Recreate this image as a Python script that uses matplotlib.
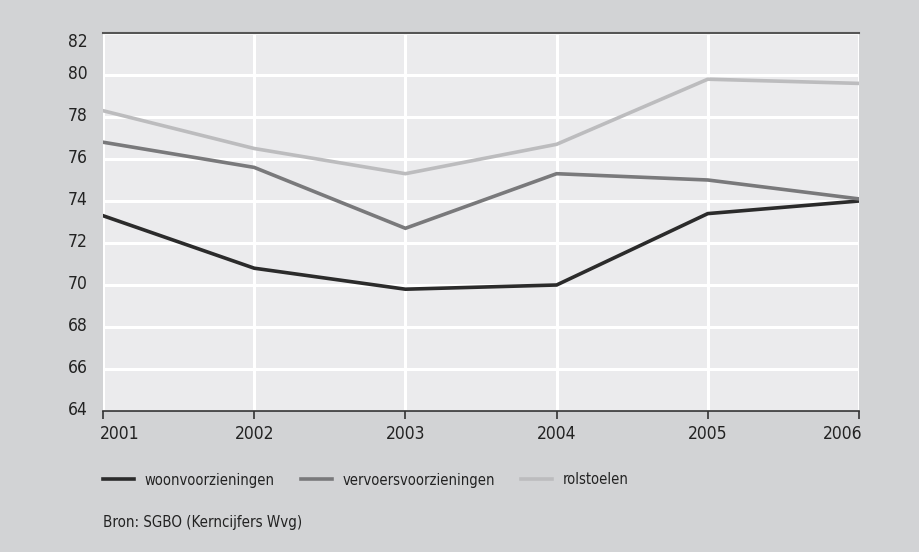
import matplotlib
matplotlib.use("Agg")
import matplotlib.pyplot as plt
import matplotlib.transforms as mtransforms
from matplotlib import font_manager
from matplotlib.font_manager import FontProperties

years = [2001, 2002, 2003, 2004, 2005, 2006]
woonvoorzieningen = [73.3, 70.8, 69.8, 70.0, 73.4, 74.0]
vervoersvoorzieningen = [76.8, 75.6, 72.7, 75.3, 75.0, 74.1]
rolstoelen = [78.3, 76.5, 75.3, 76.7, 79.8, 79.6]
y_ticks = [64, 66, 68, 70, 72, 74, 76, 78, 80, 82]

# pick a narrow sans face if one is available
narrow = None
for pref in ["LiberationSansNarrow-Regular", "DejaVuSansCondensed.ttf"]:
    for f in font_manager.fontManager.ttflist:
        if pref in f.fname:
            narrow = f.fname
            break
    if narrow:
        break


def fp(size):
    if narrow:
        return FontProperties(fname=narrow, size=size)
    return FontProperties(family="DejaVu Sans", stretch="condensed", size=size)


outer = "#d2d3d5"
inner = "#ebebed"
txt = "#222222"

fig = plt.figure(figsize=(9.19, 5.52), dpi=100, facecolor=outer)
ax = fig.add_axes([103 / 919, 141 / 552, 756 / 919, 378 / 552])
ax.set_facecolor(inner)

series = [
    ("woonvoorzieningen", woonvoorzieningen, "#2b2b2b"),
    ("vervoersvoorzieningen", vervoersvoorzieningen, "#79797b"),
    ("rolstoelen", rolstoelen, "#bcbcbe"),
]
handles = []
for label, vals, col in series:
    h, = ax.plot(years, vals, color=col, lw=2.6, label=label, zorder=3,
                 solid_joinstyle="miter")
    handles.append(h)

ax.set_xlim(2001, 2006)
ax.set_ylim(64, 82)
ax.set_yticks(y_ticks)
ax.set_xticks(years)
ax.grid(True, color="white", lw=2.2, zorder=1)
ax.set_axisbelow(True)

for s in ["left", "right"]:
    ax.spines[s].set_visible(False)
ax.spines["top"].set_color("#555555")
ax.spines["top"].set_linewidth(1.5)
ax.spines["bottom"].set_color("#333333")
ax.spines["bottom"].set_linewidth(1.2)

ax.tick_params(axis="y", length=0, pad=11, labelcolor=txt)
ax.tick_params(axis="x", length=6, width=1.2, color="#333333", direction="out",
               pad=4, labelcolor=txt)
for lab in ax.get_yticklabels() + ax.get_xticklabels():
    lab.set_fontproperties(fp(12.5))

# y labels sit slightly above their gridlines; the top one is pushed inside
ylabs = ax.get_yticklabels()
up = mtransforms.ScaledTranslation(0, 3 / 100, fig.dpi_scale_trans)
down = mtransforms.ScaledTranslation(0, -7 / 100, fig.dpi_scale_trans)
for lab in ylabs[:-1]:
    lab.set_transform(lab.get_transform() + up)
ylabs[-1].set_transform(ylabs[-1].get_transform() + down)

# outer year labels are kept within the plot width
xlabs = ax.get_xticklabels()
xlabs[0].set_horizontalalignment("left")
xlabs[0].set_transform(xlabs[0].get_transform()
                       + mtransforms.ScaledTranslation(-3 / 100, 0, fig.dpi_scale_trans))
xlabs[-1].set_horizontalalignment("right")
xlabs[-1].set_transform(xlabs[-1].get_transform()
                        + mtransforms.ScaledTranslation(3 / 100, 0, fig.dpi_scale_trans))

leg = fig.legend(handles=handles, loc="center left",
                 bbox_to_anchor=(90 / 919, 1 - 480 / 552), ncol=3, frameon=False,
                 prop=fp(10.5), handlelength=2.1, handletextpad=0.75,
                 columnspacing=1.8, labelcolor=txt)

fig.text(103 / 919, 1 - 523 / 552, "Bron: SGBO (Kerncijfers Wvg)",
         fontproperties=fp(10.8), color=txt, va="center", ha="left")

fig.savefig("out.png", dpi=100, facecolor=outer)
